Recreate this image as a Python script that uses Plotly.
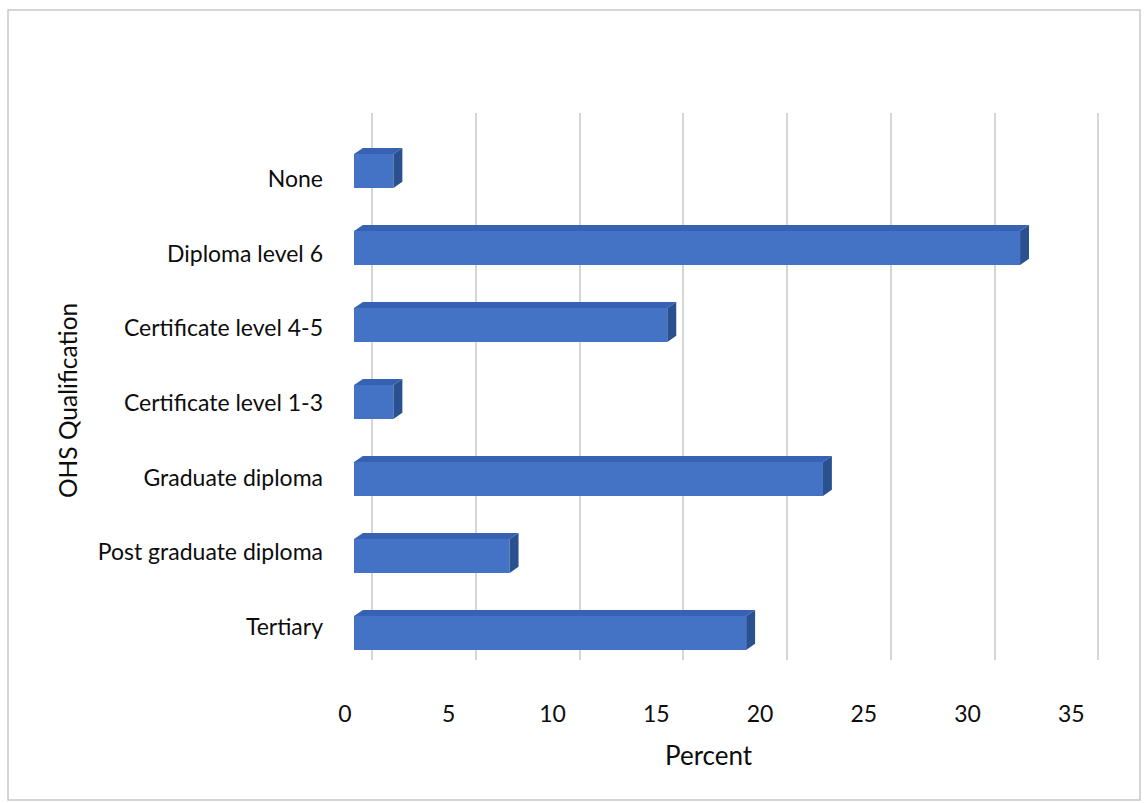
import plotly.graph_objects as go

categories = ["None", "Diploma level 6", "Certificate level 4-5", "Certificate level 1-3",
              "Graduate diploma", "Post graduate diploma", "Tertiary"]
percent = [1.9, 32.1, 15.1, 1.9, 22.6, 7.5, 18.9]
x_ticks = [0, 5, 10, 15, 20, 25, 30, 35]

W, H = 1146, 803
FONT = "Lato"
TXT = "#0d0d0d"

def fx(px):
    return px / W

def fy(py):
    return 1 - py / H

pos = list(range(len(categories)))
bar_w = 0.44
dx = 0.43      # depth offset in value units
dy = 0.08      # depth offset in category units
PXU = 20.75    # pixels per percent unit

fig = go.Figure()

# back wall gridlines subplot (x, y)
fig.add_trace(go.Scatter(x=[0], y=[0], mode="markers", marker=dict(opacity=0),
                         hoverinfo="skip", showlegend=False, xaxis="x", yaxis="y"))

# bars (x2, y2)
fig.add_trace(go.Bar(x=percent, y=pos, orientation="h", width=bar_w,
                     marker=dict(color="#4472C4", line=dict(width=0)),
                     showlegend=False, xaxis="x2", yaxis="y2"))
for p, v in zip(pos, percent):
    top = p - bar_w / 2
    bot = p + bar_w / 2
    fig.add_trace(go.Scatter(x=[0, v, v + dx, dx, 0], y=[top, top, top - dy, top - dy, top],
                             mode="lines", fill="toself", fillcolor="#3762b3",
                             line=dict(width=0), hoverinfo="skip", showlegend=False,
                             xaxis="x2", yaxis="y2"))
    fig.add_trace(go.Scatter(x=[v, v + dx, v + dx, v, v], y=[top, top - dy, bot - dy, bot, top],
                             mode="lines", fill="toself", fillcolor="#29508f",
                             line=dict(width=0), hoverinfo="skip", showlegend=False,
                             xaxis="x2", yaxis="y2"))

# category labels (x3, y3)
fig.add_trace(go.Scatter(x=[0] * len(pos), y=pos, mode="markers", marker=dict(opacity=0),
                         hoverinfo="skip", showlegend=False, xaxis="x3", yaxis="y3"))

grid_left = 372 - PXU  # pixel of value -1 on the back wall
fig.update_layout(
    width=W, height=H,
    margin=dict(l=0, r=0, t=0, b=0),
    paper_bgcolor="white", plot_bgcolor="rgba(0,0,0,0)",
    font=dict(family=FONT, color=TXT, size=23),
    xaxis=dict(domain=[fx(grid_left), fx(grid_left + 37 * PXU)], range=[-1, 36], anchor="y",
               tickvals=x_ticks, showticklabels=False, ticks="",
               showgrid=True, gridcolor="#d6d6d6", gridwidth=1.5,
               zeroline=False, showline=False, automargin=False),
    yaxis=dict(domain=[fy(660), fy(113)], range=[0, 1], anchor="x",
               showgrid=False, showticklabels=False, zeroline=False,
               showline=False, ticks="", automargin=False),
    xaxis2=dict(domain=[fx(354), fx(354 + 36 * PXU)], range=[0, 36], anchor="y2",
                tickvals=x_ticks, ticktext=[str(t) for t in x_ticks],
                showgrid=False, zeroline=False, showline=False, ticks="",
                ticklabelshift=-9, ticklabelstandoff=26,
                tickfont=dict(size=23, color=TXT), automargin=False),
    yaxis2=dict(domain=[fy(671.5), fy(132.5)], range=[6.5, -0.5], anchor="x2",
                showgrid=False, showticklabels=False, zeroline=False,
                showline=False, ticks="", automargin=False),
    xaxis3=dict(domain=[fx(324), fx(330)], range=[0, 1], anchor="y3",
                visible=False, automargin=False),
    yaxis3=dict(domain=[fy(664.3), fy(141.7)], range=[6.5, -0.5], anchor="x3",
                tickvals=pos, ticktext=categories, showgrid=False, zeroline=False,
                showline=False, ticks="", tickfont=dict(size=23, color=TXT),
                automargin=False),
    annotations=[
        dict(text="Percent", x=fx(709), y=fy(755), xref="paper", yref="paper",
             showarrow=False, font=dict(size=26, color=TXT), xanchor="center", yanchor="middle"),
        dict(text="OHS Qualification", x=fx(67), y=fy(401), xref="paper", yref="paper",
             showarrow=False, textangle=-90, font=dict(size=24.5, color=TXT),
             xanchor="center", yanchor="middle"),
    ],
    shapes=[dict(type="rect", xref="paper", yref="paper", x0=fx(8), x1=fx(1140),
                 y0=fy(800), y1=fy(10), line=dict(color="#c8c8c8", width=1.5),
                 fillcolor="rgba(0,0,0,0)", layer="below")],
)

fig.write_html("out.html")
